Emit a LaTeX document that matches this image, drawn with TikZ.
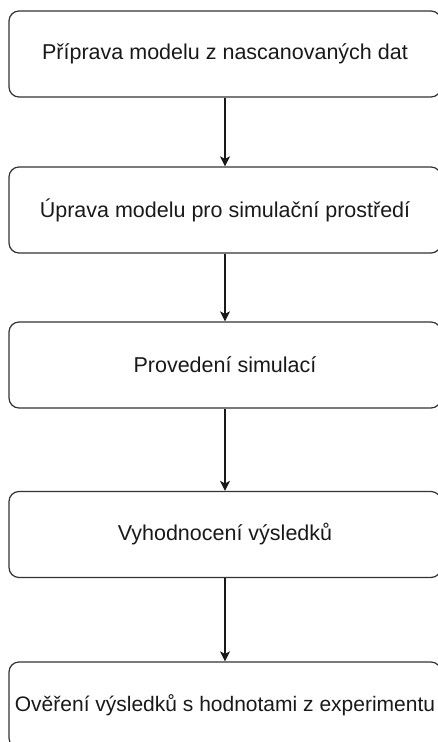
\documentclass[tikz,border=0pt]{standalone}
\usepackage{fontspec}
\setmainfont{Liberation Sans}
\usetikzlibrary{%
  arrows.meta,%
  positioning% wg. " of "
}

\begin{document}
\begin{tikzpicture}[
  x=1pt, y=1pt,
  font=\fontsize{21.5}{26}\selectfont, >={Stealth[length=10pt,width=10pt,inset=2.5pt]}, line width=1.2pt,
  stepbox/.style={rectangle, minimum height=86pt, minimum width=432pt, draw=black!80, text=black!90, rounded corners=10pt, inner sep=0pt},
  flow/.style={->, draw=black!90}
]
\useasboundingbox (0,0) rectangle (438,742);

\node[stepbox] (priprava) at (225,688) {Příprava modelu z nascanovaných dat};
\node[stepbox] (uprava) at (225,532) {Úprava modelu pro simulační prostředí};
\node[stepbox] (simulace) at (225,377) {Provedení simulací};
\node[stepbox] (vyhodnoceni) at (225,207.5) {Vyhodnocení výsledků};
\node[stepbox, font=\fontsize{21}{26}\selectfont] (overeni) at (225,37) {Ověření výsledků s hodnotami z experimentu};

\draw[flow] (priprava) -- (uprava);
\draw[flow] (uprava) -- (simulace);
\draw[flow] (simulace) -- (vyhodnoceni);
\draw[flow] (vyhodnoceni) -- (overeni);
\end{tikzpicture}
\end{document}
